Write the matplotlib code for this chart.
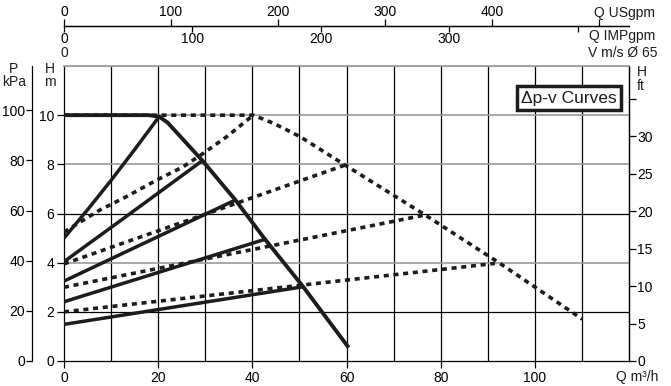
import matplotlib.pyplot as plt
from matplotlib import font_manager

# --------------------------
# Data
# Q in m3/h, H in m
# --------------------------
# max curve (solid)
max_q = [0, 18, 20.2, 22, 29.4, 36.4, 42.7, 50.8, 60.2]
max_h = [10, 10, 9.94, 9.7, 8.15, 6.55, 4.95, 3.02, 0.61]

# max curve (dotted)
max_dot_q = [0, 40.2, 44.5, 50.1, 59.7, 76.7, 92.6, 110.1]
max_dot_h = [10, 10, 9.67, 9.13, 7.97, 5.94, 3.97, 1.70]

# solid dp-v lines
s1_q = [0, 5, 10, 15, 20.2]
s1_h = [5.0, 6.15, 7.35, 8.6, 9.94]
s2_q = [0, 13, 29.4]
s2_h = [4.04, 5.85, 8.15]
s3_q = [0, 36.4]
s3_h = [3.25, 6.55]
s4_q = [0, 42.7]
s4_h = [2.41, 4.95]
s5_q = [0, 50.8]
s5_h = [1.49, 3.02]

# dotted dp-v lines
d1_q = [0, 7.6, 13.3, 19.7, 25.3, 29.6, 34.6, 40.2]
d1_h = [5.25, 6.14, 6.69, 7.36, 7.9, 8.45, 9.13, 10.0]
d2_q = [0, 59.7]
d2_h = [3.95, 7.97]
d3_q = [0, 76.7]
d3_h = [3.0, 5.94]
d4_q = [0, 91.5]
d4_h = [2.0, 3.97]

# axes ticks
q_ticks = [0, 20, 40, 60, 80, 100]
q_grid = [10, 20, 30, 40, 50, 60, 70, 80, 90, 100, 110]
h_ticks = [0, 2, 4, 6, 8, 10]
h_grid_grey = [4, 8, 10, 12]
h_grid_black = [2, 6]
p_ticks = [0, 20, 40, 60, 80, 100]
ft_ticks = [0, 5, 10, 15, 20, 25, 30, 35]
ft_labels = ["0", "5", "10", "15", "20", "25", "30", ""]
us_ticks = [0, 100, 200, 300, 400, 500]
us_labels = ["0", "100", "200", "300", "400", ""]
imp_ticks = [0, 100, 200, 300, 400]
imp_labels = ["0", "100", "200", "300", ""]

# --------------------------
# Style
# --------------------------
plt.rcParams["font.family"] = ["Liberation Sans", "DejaVu Sans"]
names = {f.name for f in font_manager.fontManager.ttflist}
narrow = "Liberation Sans Narrow" in names
box_font = "Liberation Sans Narrow" if narrow else "Liberation Sans"
box_size = 15 if narrow else 12.5

W, H = 671, 386
ink = "#1c1c1c"
fs = 10


def px(x, y):
    return x / W, 1 - y / H


fig = plt.figure(figsize=(W / 100, H / 100), dpi=100)
ax = fig.add_axes([64 / W, 25 / H, 565 / W, 295 / H])
ax.set_xlim(0, 120)
ax.set_ylim(0, 12)

# grid
for q in q_grid:
    ax.axvline(q, color="black", lw=0.9, zorder=1)
for h in h_grid_grey:
    ax.axhline(h, color="#9a9a9a", lw=1.2, zorder=1)
for h in h_grid_black:
    ax.axhline(h, color="black", lw=0.9, zorder=1)

for s in ["left", "bottom", "right"]:
    ax.spines[s].set_color("black")
    ax.spines[s].set_linewidth(0.9)
ax.spines["top"].set_color("#9a9a9a")
ax.spines["top"].set_linewidth(1.2)

# curves
dots = (0, (1.4, 1.3))
ax.plot(max_dot_q, max_dot_h, color=ink, lw=2.6, ls=dots, zorder=3)
for q, h in [(d1_q, d1_h), (d2_q, d2_h), (d3_q, d3_h), (d4_q, d4_h)]:
    ax.plot(q, h, color=ink, lw=2.6, ls=dots, zorder=3)
for q, h in [(s1_q, s1_h), (s2_q, s2_h), (s3_q, s3_h), (s4_q, s4_h), (s5_q, s5_h)]:
    ax.plot(q, h, color=ink, lw=2.5, zorder=4, solid_capstyle="butt")
ax.plot(max_q, max_h, color=ink, lw=2.8, zorder=5, solid_joinstyle="round")

# main axes ticks
ax.set_xticks(q_ticks, labels=[str(v) for v in q_ticks])
ax.set_yticks(h_ticks, labels=[str(v) for v in h_ticks])
ax.tick_params(direction="out", length=5, width=0.9, labelsize=fs, pad=2, colors="black")

# P kPa axis on the far left
sec_p = ax.secondary_yaxis(-32 / 565, functions=(lambda h: h * 9.80665, lambda p: p / 9.80665))
sec_p.set_yticks(p_ticks, labels=[str(v) for v in p_ticks])
sec_p.tick_params(direction="out", length=4, width=0.9, labelsize=fs, pad=1)
sec_p.spines["left"].set_linewidth(0.9)

# H ft axis on the right
sec_ft = ax.secondary_yaxis("right", functions=(lambda h: h * 3.28084, lambda f: f / 3.28084))
sec_ft.set_yticks(ft_ticks, labels=ft_labels)
sec_ft.tick_params(direction="out", length=5, width=0.9, labelsize=fs, pad=1)
sec_ft.spines["right"].set_linewidth(0.9)

# flow scales on top
top_loc = 1 + 40 / 295
sec_us = ax.secondary_xaxis(top_loc, functions=(lambda q: q / 0.2271247, lambda g: g * 0.2271247))
sec_us.set_xticks(us_ticks, labels=us_labels)
sec_us.tick_params(direction="out", length=5, width=0.9, labelsize=fs, pad=0)
sec_us.spines["top"].set_linewidth(0.9)

sec_imp = ax.secondary_xaxis(top_loc, functions=(lambda q: q / 0.2727655, lambda g: g * 0.2727655))
sec_imp.set_alignment("bottom")
sec_imp.set_xticks(imp_ticks, labels=imp_labels)
sec_imp.tick_params(direction="out", length=4, width=0.9, labelsize=fs, pad=0)
sec_imp.spines["bottom"].set_linewidth(0.9)

# axis captions
fig.text(*px(655, 13), "Q USgpm", ha="right", va="center", fontsize=fs, color=ink)
fig.text(*px(655, 36), "Q IMPgpm", ha="right", va="center", fontsize=fs, color=ink)
fig.text(*px(657, 53), "V m/s Ø 65", ha="right", va="center", fontsize=fs, color=ink)
fig.text(*px(64, 53), "0", ha="center", va="center", fontsize=fs, color=ink)
fig.text(*px(13, 69), "P", ha="center", va="center", fontsize=fs, color=ink)
fig.text(*px(14, 82), "kPa", ha="center", va="center", fontsize=fs, color=ink)
fig.text(*px(50, 69), "H", ha="center", va="center", fontsize=fs, color=ink)
fig.text(*px(50, 82), "m", ha="center", va="center", fontsize=fs, color=ink)
fig.text(*px(637, 72), "H", ha="left", va="center", fontsize=fs, color=ink)
fig.text(*px(637, 86), "ft", ha="left", va="center", fontsize=fs, color=ink)
fig.text(*px(658, 377), "Q m³/h", ha="right", va="center", fontsize=fs, color=ink)

fig.text(*px(569, 98), "Δp-v Curves", ha="center", va="center", fontsize=box_size,
         family=box_font, color=ink,
         bbox=dict(boxstyle="square,pad=0.25", fc="white", ec=ink, lw=2.5))

fig.savefig("out.png", dpi=100)
